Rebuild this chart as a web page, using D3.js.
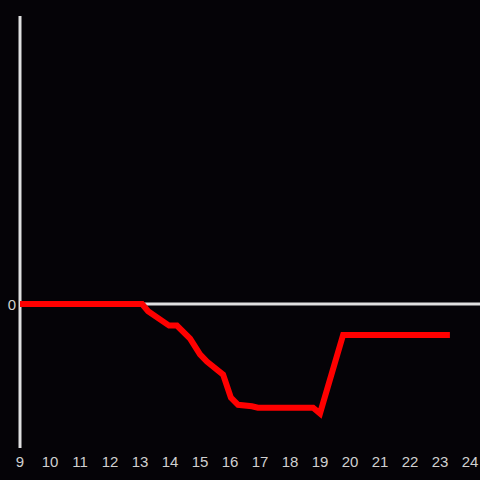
<!DOCTYPE html>
<html>
<head>
<meta charset="utf-8">
<script src="https://cdn.jsdelivr.net/npm/d3@7"></script>
<style>
  html, body { margin: 0; padding: 0; background: #050307; }
  svg { display: block; }
</style>
</head>
<body>
<div id="chart"></div>
<script>
// ---------------- data ----------------
const hours = [9, 13.07, 13.27, 13.97, 14.23, 14.67, 15.0, 15.23, 15.77, 16.03, 16.27, 16.73, 16.93, 18.77, 19.0, 19.77, 23.33];
const values = [0, 0, -0.05, -0.15, -0.15, -0.24, -0.35, -0.4, -0.49, -0.65, -0.7, -0.71, -0.72, -0.72, -0.76, -0.215, -0.215];
const xTicks = d3.range(9, 25);
const yTicks = [0];

// ---------------- layout ----------------
const width = 480, height = 480;
const svg = d3.select("#chart").append("svg")
  .attr("width", width)
  .attr("height", height)
  .style("background", "#050307");

const x = d3.scaleLinear().domain([9, 24]).range([20, 470]);
const y = d3.scaleLinear().domain([-1, 2]).range([448, 16]);

// y axis line
svg.append("line")
  .attr("x1", x(9)).attr("x2", x(9))
  .attr("y1", y(2)).attr("y2", y(-1))
  .attr("stroke", "#e0e0e0")
  .attr("stroke-width", 3);

// zero line
svg.append("line")
  .attr("x1", x(9)).attr("x2", width)
  .attr("y1", y(0)).attr("y2", y(0))
  .attr("stroke", "#e0e0e0")
  .attr("stroke-width", 3);

// x tick labels
svg.append("g")
  .selectAll("text")
  .data(xTicks)
  .join("text")
  .attr("x", d => x(d))
  .attr("y", 461)
  .attr("text-anchor", "middle")
  .attr("dominant-baseline", "central")
  .attr("fill", "#d0d0d0")
  .style("font", "15px 'Liberation Sans', Arial, sans-serif")
  .text(d => d);

// y tick labels
svg.append("g")
  .selectAll("text")
  .data(yTicks)
  .join("text")
  .attr("x", 12)
  .attr("y", d => y(d))
  .attr("text-anchor", "middle")
  .attr("dominant-baseline", "central")
  .attr("fill", "#d0d0d0")
  .style("font", "15px 'Liberation Sans', Arial, sans-serif")
  .text(d => d);

// ---------------- line ----------------
const line = d3.line()
  .x((d, i) => x(hours[i]))
  .y(d => y(d));

svg.append("path")
  .datum(values)
  .attr("fill", "none")
  .attr("stroke", "#ff0000")
  .attr("stroke-width", 6)
  .attr("stroke-linejoin", "miter")
  .attr("d", line);
</script>
</body>
</html>
